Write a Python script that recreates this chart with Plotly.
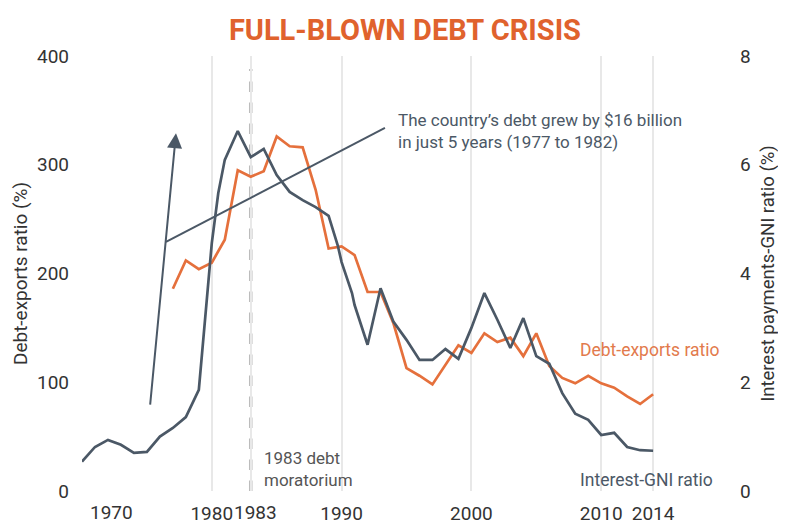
import plotly.graph_objects as go

# Interest payments to GNI ratio (%), right axis
gni_years = [1970, 1971, 1972, 1973, 1974, 1975, 1976, 1977, 1978, 1979, 1979.6, 1980, 1980.5,
             1981, 1982, 1983, 1984, 1985, 1986, 1987, 1988, 1989, 1989.7, 1990, 1990.8,
             1991, 1992, 1993, 1994, 1995, 1996, 1997, 1998, 1999, 2000, 2001, 2002, 2003,
             2004, 2005, 2006, 2007, 2008, 2009, 2010, 2011, 2012, 2013, 2014]
gni_ratio = [0.54, 0.81, 0.94, 0.85, 0.70, 0.72, 1.00, 1.16, 1.36, 1.86, 3.48, 4.56, 5.48,
             6.09, 6.62, 6.14, 6.29, 5.81, 5.50, 5.35, 5.22, 5.06, 4.52, 4.21, 3.64,
             3.42, 2.69, 3.73, 3.11, 2.78, 2.41, 2.41, 2.61, 2.43, 3.00, 3.64, 3.15, 2.63,
             3.18, 2.48, 2.34, 1.80, 1.42, 1.31, 1.03, 1.07, 0.81, 0.75, 0.74]

# Debt to exports ratio (%), left axis
dx_years = list(range(1977, 2015))
dx_ratio = [186, 212, 204, 210, 231, 295, 289, 294, 326, 317, 316, 277, 223, 225, 217,
            183, 183, 154, 113, 106, 98, 116, 134, 127, 145, 137, 141, 124, 145, 115,
            104, 99, 106, 99, 95, 87, 80, 89]

tick_years = [1970, 1980, 1983, 1990, 2000, 2010, 2014]
# 1970 and 1983 labels are drawn nudged sideways (as in the original) via annotations
tick_text = ["", "1980", "", "1990", "2000", "2010", "2014"]
nudged_labels = [("1970", 1972.3), ("1983", 1983.4)]
left_ticks = [0, 100, 200, 300, 400]
right_ticks = [0, 2, 4, 6, 8]

GRAY = "#4b5866"
ORANGE = "#e5703c"
FONT = "Roboto"
TICK_SIZE = 19

fig = go.Figure()
fig.add_trace(go.Scatter(x=dx_years, y=dx_ratio, mode="lines", name="Debt-exports ratio",
                         line=dict(color=ORANGE, width=2.7), yaxis="y"))
fig.add_trace(go.Scatter(x=gni_years, y=gni_ratio, mode="lines", name="Interest-GNI ratio",
                         line=dict(color=GRAY, width=2.7), yaxis="y2"))

# 1983 moratorium dashed line
fig.add_shape(type="line", xref="x", yref="paper", x0=1983, x1=1983, y0=0, y1=0.97,
              line=dict(color="#bcbcbc", width=3.5, dash="dash"), layer="below")
# annotation connector line
fig.add_shape(type="line", xref="x", yref="y", x0=1976.47, y0=229, x1=1993.34, y1=334,
              line=dict(color=GRAY, width=2))

def txt(x, y, s, color, size=17.5):
    return dict(x=x, y=y, xref="x", yref="y", showarrow=False, xanchor="left", yanchor="middle",
                align="left", text=s, font=dict(family=FONT, size=size, color=color))

anns = [
    dict(x=1977.24, y=329, ax=1975.24, ay=78, xref="x", yref="y", axref="x", ayref="y",
         showarrow=True, arrowhead=2, arrowsize=1.5, arrowwidth=2, arrowcolor=GRAY, text=""),
    txt(1994.2, 331, "The country’s debt grew by $16 billion<br>in just 5 years (1977 to 1982)", GRAY, 17),
    txt(1983.85, 20.5, "1983 debt<br>moratorium", "#555555", 17),
    txt(2008.2, 130, "Debt-exports ratio", "#e27a4c"),
    txt(2008.2, 10, "Interest-GNI ratio", GRAY),
]
for lab, xpos in nudged_labels:
    anns.append(dict(x=xpos, y=0, xref="x", yref="paper", yshift=-21, showarrow=False,
                     xanchor="center", yanchor="middle", text=lab,
                     font=dict(family=FONT, size=TICK_SIZE, color="#333333")))

fig.update_layout(
    width=786, height=527,
    margin=dict(l=74, r=63, t=48, b=44, autoexpand=False),
    paper_bgcolor="white", plot_bgcolor="white",
    showlegend=False,
    font=dict(family=FONT, size=18, color="#333333"),
    title=dict(text="<b>FULL-BLOWN DEBT CRISIS</b>", x=0.505, xanchor="center", y=0.958, yanchor="middle",
               font=dict(family="Liberation Sans Narrow, Roboto", size=29, color="#e0622d")),
    xaxis=dict(range=[1970, 2020], tickvals=tick_years, ticktext=tick_text,
               tickangle=0, automargin=False, ticklabelstandoff=9,
               showgrid=True, gridcolor="#e8e8e8", gridwidth=2, zeroline=False, showline=False,
               tickfont=dict(size=TICK_SIZE, color="#333333")),
    yaxis=dict(range=[0, 400], tickvals=left_ticks, showgrid=False, zeroline=False, showline=False,
               automargin=False, ticklabelstandoff=12, tickfont=dict(size=TICK_SIZE, color="#333333"),
               title=dict(text="Debt-exports ratio (%)", font=dict(size=19, color="#333333"), standoff=4)),
    yaxis2=dict(range=[0, 8], tickvals=right_ticks, overlaying="y", side="right", showgrid=False,
                automargin=False, zeroline=False, showline=False, ticklabelstandoff=8,
                tickfont=dict(size=TICK_SIZE, color="#333333"),
                title=dict(text="Interest payments-GNI ratio (%)", font=dict(size=18.5, color="#333333"), standoff=11)),
    annotations=anns,
)

fig.write_html("out.html")
